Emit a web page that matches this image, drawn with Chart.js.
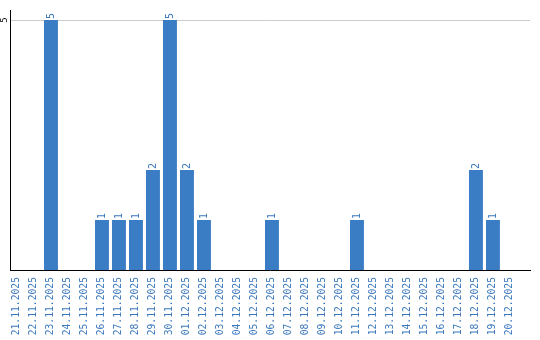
<!DOCTYPE html>
<html>
<head>
<meta charset="utf-8">
<style>
  html, body { margin: 0; padding: 0; background: #fff; }
  #wrap { width: 540px; height: 340px; }
</style>
</head>
<body>
<div id="wrap"><canvas id="myChart"></canvas></div>

<script src="https://cdn.jsdelivr.net/npm/chart.js"></script>

<script>
    const days = [
        '21.11.2025', '22.11.2025', '23.11.2025', '24.11.2025', '25.11.2025',
        '26.11.2025', '27.11.2025', '28.11.2025', '29.11.2025', '30.11.2025',
        '01.12.2025', '02.12.2025', '03.12.2025', '04.12.2025', '05.12.2025',
        '06.12.2025', '07.12.2025', '08.12.2025', '09.12.2025', '10.12.2025',
        '11.12.2025', '12.12.2025', '13.12.2025', '14.12.2025', '15.12.2025',
        '16.12.2025', '17.12.2025', '18.12.2025', '19.12.2025', '20.12.2025'
    ];
    const counts = [
        0, 0, 5, 0, 0,
        1, 1, 1, 2, 5,
        2, 1, 0, 0, 0,
        1, 0, 0, 0, 0,
        1, 0, 0, 0, 0,
        0, 0, 2, 1, 0
    ];
    const yTicks = [5];

    const blue = '#3b7dc4';
    const textBlue = '#3a78bd';

    // values above bars + the single y tick, both rotated like the x labels
    const rotatedText = {
        id: 'rotatedText',
        afterDatasetsDraw(chart) {
            const ctx = chart.ctx;
            const meta = chart.getDatasetMeta(0);
            ctx.save();
            ctx.fillStyle = textBlue;
            ctx.font = '10px "DejaVu Sans Mono"';
            ctx.textAlign = 'left';
            ctx.textBaseline = 'middle';
            meta.data.forEach((bar, i) => {
                if (!counts[i]) return;
                ctx.save();
                ctx.translate(bar.x, bar.y - 1);
                ctx.rotate(-Math.PI / 2);
                ctx.fillText(String(counts[i]), 0, 0);
                ctx.restore();
            });
            const y = chart.scales.y;
            ctx.fillStyle = '#000';
            ctx.font = '9px "DejaVu Sans Mono"';
            ctx.textAlign = 'center';
            yTicks.forEach(v => {
                ctx.save();
                ctx.translate(5, y.getPixelForValue(v));
                ctx.rotate(-Math.PI / 2);
                ctx.fillText(String(v), 0, 0);
                ctx.restore();
            });
            ctx.restore();
        }
    };

    new Chart(document.getElementById('myChart'), {
        type: 'bar',
        data: {
            datasets: [{
                data: counts.map((c, i) => ({ x: i, y: c })),
                backgroundColor: blue,
                borderWidth: 0,
                barPercentage: 0.82,
                categoryPercentage: 1
            }]
        },
        options: {
            responsive: true,
            maintainAspectRatio: false,
            animation: false,
            layout: { padding: { left: 10, right: 10, top: 10, bottom: 0 } },
            plugins: {
                legend: { display: false },
                tooltip: { enabled: false }
            },
            scales: {
                x: {
                    type: 'linear',
                    offset: false,
                    min: -0.41,
                    max: 30.18,
                    afterBuildTicks: s => { s.ticks = days.map((d, i) => ({ value: i })); },
                    afterFit: s => { s.height = 70; },
                    grid: { display: false, drawTicks: false, offset: false },
                    border: { color: '#000', width: 1 },
                    ticks: {
                        callback: v => days[v],
                        color: textBlue,
                        font: { family: 'DejaVu Sans Mono', size: 9.7 },
                        minRotation: 90,
                        maxRotation: 90,
                        autoSkip: false,
                        padding: 7
                    }
                },
                y: {
                    min: 0,
                    max: 5.2,
                    afterBuildTicks: s => { s.ticks = yTicks.map(v => ({ value: v })); },
                    grid: { color: '#cccccc', lineWidth: 1, drawTicks: false },
                    border: { color: '#000', width: 1 },
                    ticks: { display: false }
                }
            }
        },
        plugins: [rotatedText]
    });
</script>
</body>
</html>
